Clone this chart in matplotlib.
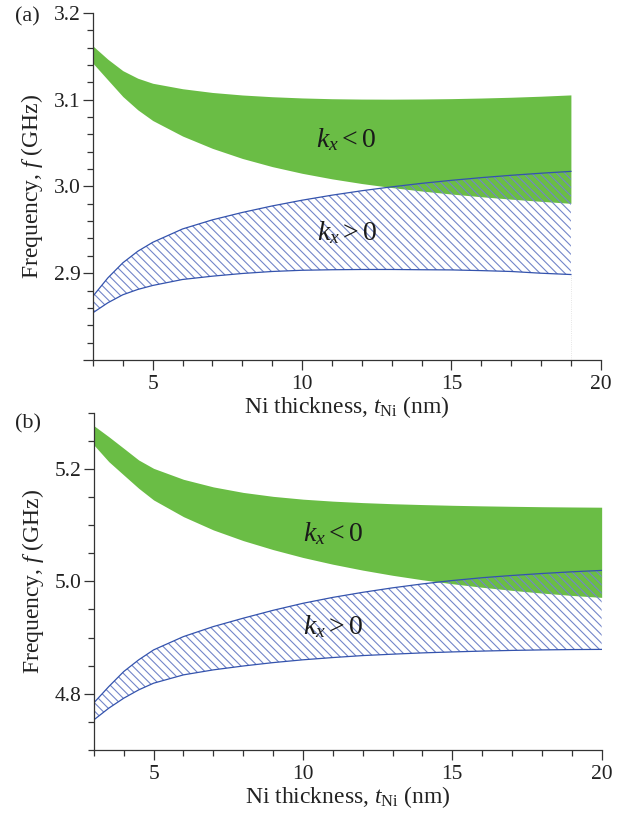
import numpy as np
import matplotlib.pyplot as plt
from matplotlib.ticker import MultipleLocator, FixedLocator

# ---------------------------------------------------
# Data
# ---------------------------------------------------

# panel (a): data runs from 3 to 19 nm
t_a = [3, 3.5, 4, 4.5, 5, 6, 7, 8, 9, 10, 11, 12, 13, 14, 15, 16, 17, 18, 19]
neg_hi_a = [3.1617, 3.1464, 3.1333, 3.1246, 3.1188, 3.1125, 3.1082, 3.1053, 3.1033, 3.1019,
            3.1010, 3.1006, 3.1005, 3.1007, 3.1011, 3.1018, 3.1027, 3.1039, 3.1054]
neg_lo_a = [3.1418, 3.1226, 3.1035, 3.0882, 3.0759, 3.0580, 3.0438, 3.0322, 3.0228, 3.0151,
            3.0087, 3.0033, 2.9987, 2.9947, 2.9912, 2.9881, 2.9853, 2.9828, 2.9805]
pos_hi_a = [2.8736, 2.8947, 2.912, 2.9253, 2.9356, 2.951, 2.9615, 2.970, 2.9775, 2.9841,
            2.9899, 2.995, 2.9995, 3.0035, 3.007, 3.0101, 3.0128, 3.0152, 3.0173]
pos_lo_a = [2.8545, 2.866, 2.8752, 2.8813, 2.8859, 2.8928, 2.8966, 2.8997, 2.902, 2.9034,
            2.904, 2.9043, 2.9043, 2.904, 2.9038, 2.903, 2.902, 2.900, 2.8985]

# panel (b): data runs from 3 to 20 nm
t_b = [3, 3.5, 4, 4.5, 5, 6, 7, 8, 9, 10, 11, 12, 13, 14, 15, 16, 17, 18, 19, 20]
neg_hi_b = [5.2769, 5.2573, 5.2367, 5.2159, 5.201, 5.1815, 5.1680, 5.1582, 5.1512, 5.1462,
            5.1427, 5.1401, 5.1381, 5.1366, 5.1353, 5.1343, 5.1335, 5.1328, 5.1323, 5.1319]
neg_lo_b = [5.2426, 5.2129, 5.1892, 5.1656, 5.1448, 5.1151, 5.0915, 5.0725, 5.0565, 5.0425,
            5.0305, 5.0200, 5.0108, 5.0028, 4.9958, 4.9895, 4.9840, 4.9792, 4.9750, 4.9715]
pos_hi_b = [4.784, 4.8129, 4.8396, 4.8604, 4.8781, 4.9018, 4.9196, 4.9345, 4.9485, 4.961,
            4.9715, 4.9805, 4.9885, 4.9955, 5.0015, 5.0065, 5.0105, 5.014, 5.017, 5.0195]
pos_lo_b = [4.7537, 4.7745, 4.7922, 4.807, 4.8189, 4.8337, 4.8426, 4.8495, 4.8555, 4.8605,
            4.8645, 4.868, 4.8705, 4.8728, 4.8745, 4.876, 4.8772, 4.8781, 4.8787, 4.879]

x_ticks = [5, 10, 15, 20]

# ---------------------------------------------------
# Style
# ---------------------------------------------------

plt.rcParams['font.family'] = ['Liberation Serif', 'DejaVu Serif']
plt.rcParams['mathtext.fontset'] = 'custom'
plt.rcParams['mathtext.rm'] = 'Liberation Serif'
plt.rcParams['mathtext.it'] = 'Liberation Serif:italic'
plt.rcParams['hatch.linewidth'] = 0.8

green = '#6abd45'
blue_line = '#3453ad'
blue_hatch = '#7385c9'
axis_col = '#333333'
text_col = '#222222'
fs_tick = 15.5
fs_lab = 17
fs_k = 20

fig = plt.figure(figsize=(6.3, 8.19), dpi=100)
ax_a = fig.add_axes([0.1476, 0.5604, 0.806, 0.424])
ax_b = fig.add_axes([0.1490, 0.0842, 0.806, 0.4119])


def draw_panel(ax, t, neg_hi, neg_lo, pos_hi, pos_lo, ylim, major, minor):
    ax.patch.set_visible(False)
    ax.fill_between(t, neg_lo, neg_hi, color=green, linewidth=0)
    ax.fill_between(t, pos_lo, pos_hi, facecolor='none', edgecolor=blue_hatch,
                    hatch='\\\\\\\\', linewidth=0)
    ax.plot(t, pos_hi, color=blue_line, lw=0.9)
    ax.plot(t, pos_lo, color=blue_line, lw=0.9)
    # faint dotted line at the end of the data
    ax.plot([t[-1], t[-1]], [ylim[0], pos_lo[-1]], color='#dddddd', lw=0.6, ls=':')

    ax.set_xlim(3, 20)
    ax.set_ylim(*ylim)
    for side in ['top', 'right']:
        ax.spines[side].set_visible(False)
    for side in ['left', 'bottom']:
        ax.spines[side].set_color(axis_col)
        ax.spines[side].set_linewidth(0.9)

    ax.xaxis.set_major_locator(FixedLocator(x_ticks))
    ax.xaxis.set_minor_locator(MultipleLocator(1))
    ax.yaxis.set_major_locator(major)
    ax.yaxis.set_minor_locator(minor)
    ax.tick_params(which='both', direction='out', color=axis_col, width=0.9,
                   labelsize=fs_tick, labelcolor=text_col)
    ax.tick_params(which='major', length=7)
    ax.tick_params(which='minor', length=4)
    ax.tick_params(axis='x', pad=4)
    ax.tick_params(axis='y', pad=2)

    ax.set_xlabel(r'Ni thickness, $t_{\mathrm{Ni}}$ (nm)', fontsize=fs_lab, color=text_col,
                  labelpad=0)
    ax.set_ylabel(r'Frequency, $f$ (GHz)', fontsize=fs_lab, color=text_col, labelpad=6)


# panel (a)
draw_panel(ax_a, t_a, neg_hi_a, neg_lo_a, pos_hi_a, pos_lo_a, (2.8, 3.2),
           FixedLocator([2.8, 2.9, 3.0, 3.1, 3.2]), MultipleLocator(0.02))
ax_a.set_yticklabels(['', '2.9', '3.0', '3.1', '3.2'])
ax_a.text(10.45, 3.0537, r'$k_x<0$', fontsize=fs_k, ha='left', va='center', color='#1a1a1a')
ax_a.text(10.5, 2.947, r'$k_x>0$', fontsize=fs_k, ha='left', va='center', color='#1a1a1a')

# panel (b)
draw_panel(ax_b, t_b, neg_hi_b, neg_lo_b, pos_hi_b, pos_lo_b, (4.7, 5.3),
           FixedLocator([4.8, 5.0, 5.2]), MultipleLocator(0.05))
ax_b.yaxis.set_major_formatter(plt.FormatStrFormatter('%.1f'))
ax_b.text(10.0, 5.085, r'$k_x<0$', fontsize=fs_k, ha='left', va='center', color='#1a1a1a')
ax_b.text(10.0, 4.92, r'$k_x>0$', fontsize=fs_k, ha='left', va='center', color='#1a1a1a')

fig.text(0.024, 0.979, '(a)', fontsize=16, ha='left', va='center', color=text_col)
fig.text(0.024, 0.483, '(b)', fontsize=16, ha='left', va='center', color=text_col)

fig.savefig('out.png', dpi=100)
